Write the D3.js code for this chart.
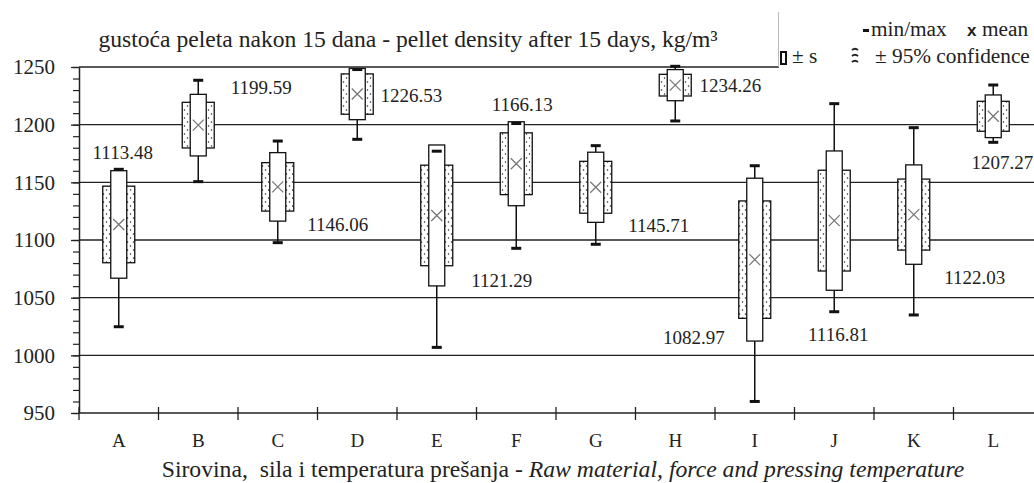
<!DOCTYPE html>
<html>
<head>
<meta charset="utf-8">
<script src="https://cdn.jsdelivr.net/npm/d3@7"></script>
<style>
  body { margin: 0; background: #fff; }
  svg { display: block; }
  svg text { font-family: "Liberation Serif", serif; }
</style>
</head>
<body>
<svg id="chart" width="1034" height="483"></svg>
<script>
// values (kg/m3)
const categories = ['A', 'B', 'C', 'D', 'E', 'F', 'G', 'H', 'I', 'J', 'K', 'L']
const means = [1113.48, 1199.59, 1146.06, 1226.53, 1121.29, 1166.13, 1145.71, 1234.26, 1082.97, 1116.81, 1122.03, 1207.27]
const stdDevs = [46.6, 26.7, 29.7, 22.2, 61.1, 36.4, 30.4, 13.5, 70.6, 60.4, 43.1, 18.5]
const conf95 = [33.2, 19.8, 21.0, 17.5, 43.6, 26.8, 22.5, 9.4, 50.9, 43.7, 30.8, 13.0]
const minValues = [1024.8, 1150.6, 1097.7, 1187.3, 1006.9, 1092.8, 1096.3, 1203.2, 960.0, 1037.8, 1035.0, 1184.7]
const maxValues = [1161.3, 1238.5, 1185.8, 1247.8, 1177.0, 1201.0, 1181.8, 1250.6, 1164.4, 1218.2, 1197.4, 1234.4]
const yTicks = [950, 1000, 1050, 1100, 1150, 1200, 1250]

// where each mean label sits: pixel shift from the category centre, value on the y scale
const labelPlacement = [
  [4, 1176], [63, 1232], [60, 1114], [54, 1225], [65, 1065], [6, 1218],
  [63, 1113], [55, 1234.5], [-61, 1016], [4, 1018], [61, 1068], [9, 1167]
]

const FONT = '"Liberation Serif", serif'
const svg = d3.select('#chart')
const margin = { left: 79, right: 1033, top: 67, bottom: 413 }

const x = d3.scaleBand().domain(categories).range([margin.left, margin.right]).padding(0)
const y = d3.scaleLinear().domain([950, 1250]).range([margin.bottom, margin.top])

const rows = categories.map((c, i) => ({
  cat: c,
  mean: means[i],
  s: stdDevs[i],
  ci: conf95[i],
  min: minValues[i],
  max: maxValues[i],
  label: labelPlacement[i]
}))

/**
 * Adds the dotted fill used for the confidence boxes.
 */
function appendPattern () {
  const p = svg.append('defs').append('pattern')
    .attr('id', 'dots')
    .attr('patternUnits', 'userSpaceOnUse')
    .attr('width', 6)
    .attr('height', 8)
  p.append('rect').attr('width', 6).attr('height', 8).attr('fill', '#fff')
  p.append('circle').attr('cx', 1.5).attr('cy', 2).attr('r', 0.75).attr('fill', '#222')
  p.append('circle').attr('cx', 4.5).attr('cy', 6).attr('r', 0.75).attr('fill', '#222')
}

/**
 * Draws grid lines and both axes.
 */
function drawAxes () {
  svg.append('g')
    .selectAll('line')
    .data(yTicks.filter(d => d > 950))
    .join('line')
    .attr('x1', margin.left)
    .attr('x2', 1034)
    .attr('y1', d => y(d))
    .attr('y2', d => y(d))
    .attr('stroke', '#222')
    .attr('stroke-width', 1.3)

  // minor ticks every 10
  svg.append('g')
    .attr('transform', `translate(${margin.left},0)`)
    .call(d3.axisLeft(y).tickValues(d3.range(950, 1251, 10)).tickSize(6).tickSizeOuter(0).tickFormat(''))
    .call(g => g.selectAll('line').attr('stroke', '#222').attr('stroke-width', 1.2))
    .call(g => g.select('.domain').remove())

  const yAxis = svg.append('g')
    .attr('transform', `translate(${margin.left},0)`)
    .call(d3.axisLeft(y).tickValues(yTicks).tickSize(8).tickSizeOuter(0).tickPadding(16).tickFormat(d3.format('d')))
  yAxis.attr('font-family', null).attr('font-size', null)
  yAxis.select('.domain').attr('stroke', '#222').attr('stroke-width', 1.5)
  yAxis.selectAll('line').attr('stroke', '#222').attr('stroke-width', 1.3)
  yAxis.selectAll('text')
    .style('font-family', FONT)
    .style('font-size', '21px')
    .attr('fill', '#222')

  // bottom axis line with boundary ticks crossing it
  svg.append('line')
    .attr('x1', margin.left).attr('x2', 1034)
    .attr('y1', y(950)).attr('y2', y(950))
    .attr('stroke', '#222').attr('stroke-width', 1.5)

  svg.append('g')
    .selectAll('line')
    .data(categories)
    .join('line')
    .attr('x1', d => x(d))
    .attr('x2', d => x(d))
    .attr('y1', y(950) - 6)
    .attr('y2', y(950) + 7)
    .attr('stroke', '#222')
    .attr('stroke-width', 1.3)

  svg.append('g')
    .selectAll('text')
    .data(categories)
    .join('text')
    .attr('x', d => x(d) + x.bandwidth() / 2)
    .attr('y', 447)
    .attr('text-anchor', 'middle')
    .style('font-family', FONT)
    .style('font-size', '19px')
    .attr('fill', '#222')
    .text(d => d)

  const title = svg.append('text')
    .attr('x', 563)
    .attr('y', 477)
    .attr('text-anchor', 'middle')
    .style('font-family', FONT)
    .style('font-size', '23.7px')
    .attr('fill', '#222')
  title.append('tspan').attr('xml:space', 'preserve').text('Sirovina,  sila i temperatura prešanja - ')
  title.append('tspan').style('font-style', 'italic').text('Raw material, force and pressing temperature')
}

/**
 * Draws whiskers, the confidence and standard deviation boxes and the means.
 */
function drawBoxes () {
  const cx = d => x(d.cat) + x.bandwidth() / 2
  const wideW = 32
  const narrowW = 16
  const g = svg.append('g')

  g.selectAll('.whisker')
    .data(rows)
    .join('line')
    .attr('class', 'whisker')
    .attr('x1', cx).attr('x2', cx)
    .attr('y1', d => y(d.max)).attr('y2', d => y(d.min))
    .attr('stroke', '#111').attr('stroke-width', 1.5)

  g.selectAll('.conf')
    .data(rows)
    .join('rect')
    .attr('class', 'conf')
    .attr('x', d => cx(d) - wideW / 2)
    .attr('width', wideW)
    .attr('y', d => y(d.mean + d.ci))
    .attr('height', d => y(d.mean - d.ci) - y(d.mean + d.ci))
    .attr('fill', 'url(#dots)')
    .attr('stroke', '#111').attr('stroke-width', 1.3)

  g.selectAll('.sd')
    .data(rows)
    .join('rect')
    .attr('class', 'sd')
    .attr('x', d => cx(d) - narrowW / 2)
    .attr('width', narrowW)
    .attr('y', d => y(d.mean + d.s))
    .attr('height', d => y(d.mean - d.s) - y(d.mean + d.s))
    .attr('fill', '#fff')
    .attr('stroke', '#111').attr('stroke-width', 1.3)

  const caps = rows.flatMap(d => [{ d, v: d.max }, { d, v: d.min }])
  g.selectAll('.cap')
    .data(caps)
    .join('rect')
    .attr('class', 'cap')
    .attr('x', c => cx(c.d) - 5)
    .attr('y', c => y(c.v) - 1.5)
    .attr('width', 10)
    .attr('height', 3)
    .attr('fill', '#111')

  g.selectAll('.mean')
    .data(rows)
    .join('path')
    .attr('class', 'mean')
    .attr('d', d => {
      const px = cx(d)
      const py = y(d.mean)
      const r = 5.5
      return `M${px - r},${py - r}L${px + r},${py + r}M${px - r},${py + r}L${px + r},${py - r}`
    })
    .attr('stroke', '#777').attr('stroke-width', 1.3)

  g.selectAll('.lbl')
    .data(rows)
    .join('text')
    .attr('class', 'lbl')
    .attr('x', d => cx(d) + d.label[0])
    .attr('y', d => y(d.label[1]))
    .attr('dy', '0.35em')
    .attr('text-anchor', 'middle')
    .style('font-family', FONT)
    .style('font-size', '19px')
    .attr('fill', '#222')
    .text(d => d3.format('.2f')(d.mean))
}

/**
 * Draws the chart title and the legend in the top right corner.
 */
function drawHeader () {
  svg.append('text')
    .attr('x', 408)
    .attr('y', 47)
    .attr('text-anchor', 'middle')
    .style('font-family', FONT)
    .style('font-size', '23.6px')
    .attr('fill', '#222')
    .text('gustoća peleta nakon 15 dana - pellet density after 15 days, kg/m³')

  const g = svg.append('g').attr('class', 'legend')
  g.append('rect').attr('x', 779).attr('y', 0).attr('width', 255).attr('height', 68.5).attr('fill', '#fff')
  g.append('line').attr('x1', 778.5).attr('x2', 778.5).attr('y1', 12).attr('y2', 67).attr('stroke', '#bbb').attr('stroke-width', 1)

  const txt = (xp, yp, s) => g.append('text')
    .attr('x', xp).attr('y', yp)
    .style('font-family', FONT)
    .style('font-size', '21.3px')
    .attr('fill', '#222')
    .text(s)

  g.append('rect').attr('x', 863).attr('y', 29).attr('width', 6).attr('height', 3).attr('fill', '#111')
  txt(871, 36, 'min/max')
  txt(967, 36, 'x').style('font-weight', 'bold').style('font-family', '"Liberation Sans", sans-serif').style('font-size', '17px')
  txt(982, 36, 'mean')

  g.append('rect').attr('x', 781).attr('y', 52).attr('width', 5).attr('height', 12).attr('fill', '#fff').attr('stroke', '#111').attr('stroke-width', 2)
  txt(792, 63, '± s')

  ;[50, 56, 62].forEach(yy => {
    g.append('path')
      .attr('d', `M852,${yy}q3,-2.5 6,0`)
      .attr('fill', 'none').attr('stroke', '#222').attr('stroke-width', 2)
  })
  txt(875, 63, '± 95% confidence')
}

appendPattern()
drawAxes()
drawBoxes()
drawHeader()
</script>
</body>
</html>
